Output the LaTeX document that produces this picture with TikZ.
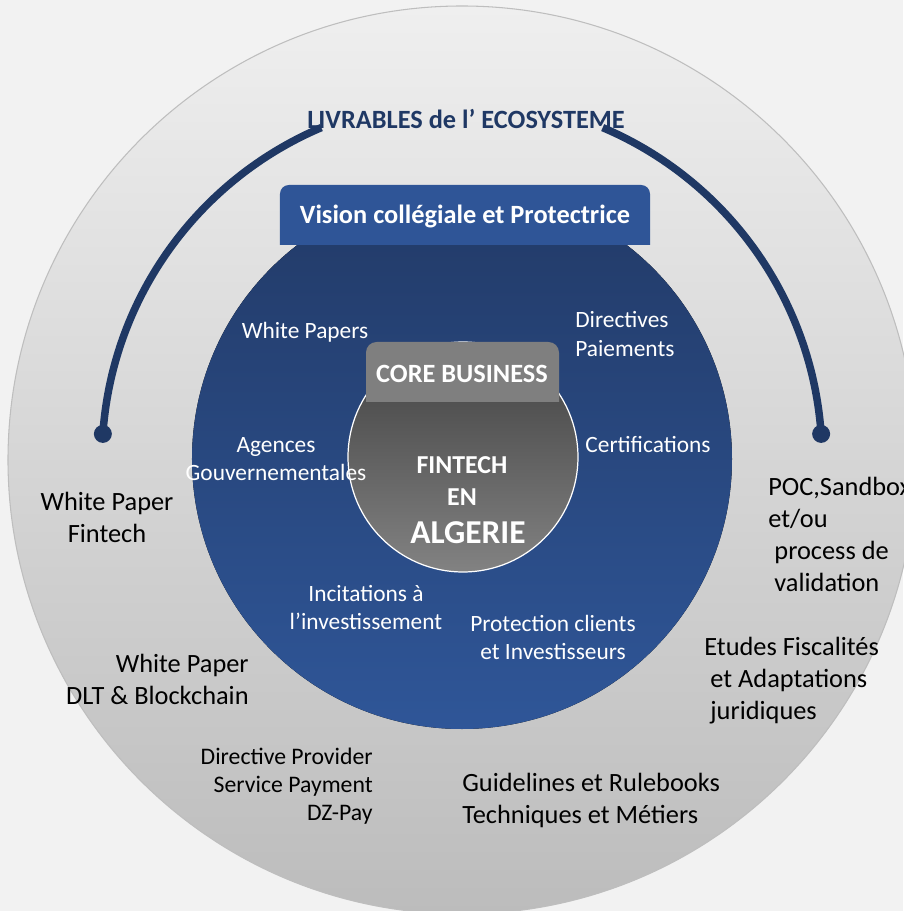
\documentclass[tikz,border=0pt]{standalone}
\usepackage{fontspec}
\setmainfont{Carlito}
\definecolor{BgGray}{RGB}{242, 242, 242}
\definecolor{RingTop}{RGB}{239, 239, 239}
\definecolor{RingBottom}{RGB}{188, 188, 188}
\definecolor{RingLine}{RGB}{190, 190, 190}
\definecolor{NavyDark}{RGB}{31, 56, 100}
\definecolor{BlueTop}{RGB}{34, 58, 103}
\definecolor{BlueBottom}{RGB}{47, 86, 152}
\definecolor{VisionBlue}{RGB}{47, 85, 151}
\definecolor{CoreGray}{RGB}{127, 127, 127}
\definecolor{CoreTop}{RGB}{64, 64, 64}
\definecolor{CoreBottom}{RGB}{130, 130, 130}
\usetikzlibrary{positioning, calc}

\begin{document}
\begin{tikzpicture}[
            heading/.style={inner sep=0pt, font=\fontsize{15}{18}\selectfont\bfseries},
            inlbl/.style={inner sep=0pt, text=white, align=center, font=\fontsize{13.3}{16.4}\selectfont},
            outlbl/.style={inner sep=0pt, text=black, align=center, font=\fontsize{15}{18.2}\selectfont},
            smalllbl/.style={inner sep=0pt, text=black, align=right, font=\fontsize{13.5}{16}\selectfont},
            livline/.style={draw=NavyDark, line width=0.15cm},
        ]
            \path[use as bounding box, fill=BgGray] (-9.24,-9.04) rectangle (8.82,9.18);
            % rings
            \draw[RingLine, line width=0.6pt, top color=RingTop, bottom color=RingBottom] (0,-0.02) circle (9.08);
            \coordinate (dotL) at (176:7.2);
            \coordinate (dotR) at (4:7.2);
            \draw[livline] (dotL) arc[start angle=176, end angle=113, radius=7.2];
            \draw[livline] (67:7.2) arc[start angle=67, end angle=4, radius=7.2];
            \fill[NavyDark] (dotL) circle (0.18);
            \fill[NavyDark] (dotR) circle (0.18);
            \fill[top color=BlueTop, bottom color=BlueBottom] (0,0) circle (5.4);
            \fill[VisionBlue] (-3.64,4.28) [rounded corners=5pt] -- (-3.64,5.48) -- (3.76,5.48) [sharp corners] -- (3.76,4.28) -- cycle;
            \draw[white, line width=0.7pt, top color=CoreTop, bottom color=CoreBottom] (0.02,0.04) circle (2.3);
            \fill[CoreGray] (-1.92,1.14) [rounded corners=6pt] -- (-1.92,2.34) -- (1.94,2.34) [sharp corners] -- (1.94,1.14) -- cycle;

            \node[heading, text=NavyDark] (livrables) at (0.08,6.8) {LIVRABLES de l’ ECOSYSTEME};
            \node[heading, text=white] (vision) at (0.06,4.86) {Vision collégiale et Protectrice};
            \node[heading, text=white] (core) at (0,1.7) {CORE BUSINESS};
            \node[heading, text=white, align=center, font=\fontsize{14.7}{18.2}\selectfont\bfseries] (fintech) at (0,-0.44) {FINTECH\\EN};
            \node[heading, text=white, font=\fontsize{19}{22}\selectfont\bfseries] (algerie) at (0.12,-1.48) {ALGERIE};

            % inner labels
            \node[inlbl] (whitepapers) at (-3.14,2.54) {White Papers};
            \node[inlbl, align=left, anchor=west] (directives) at (2.26,2.5) {Directives\\Paiements};
            \node[inlbl] (agences) at (-3.72,0) {Agences\\Gouvernementales};
            \node[inlbl] (certif) at (3.72,0.28) {Certifications};
            \node[inlbl] (incitations) at (-1.92,-2.97) {Incitations à\\l’investissement};
            \node[inlbl] (protection) at (1.82,-3.57) {Protection clients\\et Investisseurs};

            % outer labels
            \node[outlbl] (wpfintech) at (-7.10,-1.16) {White Paper\\Fintech};
            \node[outlbl, align=right, anchor=east] (wpdlt) at (-4.26,-4.41) {White Paper\\DLT \& Blockchain};
            \node[smalllbl, anchor=east] (dzpay) at (-1.78,-6.54) {Directive Provider\\Service Payment\\DZ-Pay};
            \node[outlbl, align=left, anchor=west] (guidelines) at (0,-6.83) {Guidelines et Rulebooks\\Techniques et Métiers};
            \node[outlbl, align=left, anchor=west] (poc) at (6.12,-1.51) {POC,Sandbox\\et/ou\\\hspace*{0.23em}process de\\\hspace*{0.23em}validation};
            \node[outlbl, align=left, anchor=west] (etudes) at (4.84,-4.43) {Etudes Fiscalités\\\hspace*{0.23em}et Adaptations\\\hspace*{0.23em}juridiques};
        \end{tikzpicture}
\end{document}
